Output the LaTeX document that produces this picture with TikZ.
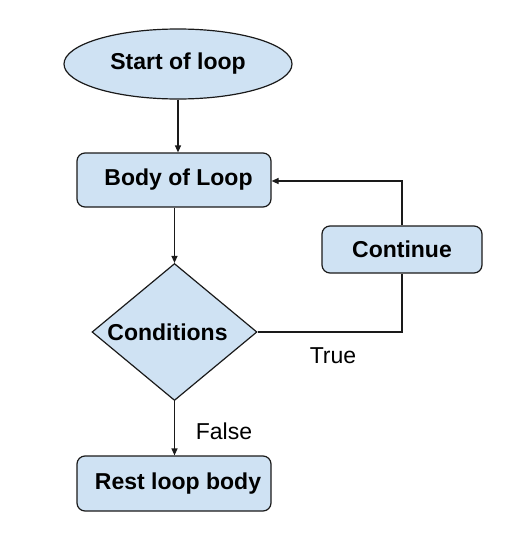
\documentclass[tikz,border=0pt]{standalone}
\usepackage{fontspec}
\setmainfont{Liberation Sans}
\usetikzlibrary{shapes.geometric,arrows.meta}
\definecolor{boxfill}{HTML}{CFE2F3}
\definecolor{linec}{HTML}{1A1A1A}
\newcommand{\lowertext}[2]{\hspace*{#1}\raisebox{-3pt}{#2}}
\begin{document}
\begin{tikzpicture}[x=1pt,y=-1pt,
  shapebase/.style={draw=linec,fill=boxfill,line width=1.2pt,inner sep=0pt,font=\fontsize{23}{27}\selectfont\bfseries},
  roundbox/.style={shapebase,rectangle,rounded corners=8pt},
  startend/.style={shapebase,ellipse},
  decision/.style={shapebase,diamond,aspect=1.2},
  conn/.style={draw=linec,line width=1.2pt},
  arr/.style={conn,-{Triangle[length=7pt,width=6pt]}},
  lbl/.style={inner sep=0pt,font=\fontsize{23}{27}\selectfont}]
\useasboundingbox (0,0) rectangle (514,546);
\node[startend,minimum width=228pt,minimum height=70pt] (start) at (178,64) {\lowertext{0pt}{Start of loop}};
\node[roundbox,minimum width=194pt,minimum height=54pt] (body) at (174,180) {\lowertext{9pt}{Body of Loop}};
\node[decision,minimum width=165pt,minimum height=137pt] (cond) at (174.5,332) {\lowertext{-14pt}{Conditions}};
\node[roundbox,minimum width=160pt,minimum height=47pt] (cont) at (402,249.5) {\lowertext{0pt}{Continue}};
\node[roundbox,minimum width=194pt,minimum height=55pt] (rest) at (174,483.5) {\lowertext{8pt}{Rest loop body}};
\coordinate (c1) at (402,332);
\coordinate (c2) at (402,181);
\draw[arr] (start.south) -- (body.north -| start.south);
\draw[arr] (body.south -| cond.north) -- (cond.north);
\draw[arr] (cond.south) -- (rest.north -| cond.south);
\draw[conn] (cond.east) -- (c1) -- (cont.south);
\draw[arr] (cont.north) -- (c2) -- (body.east |- c2);
\node[lbl] (ltrue) at (333,356) {True};
\node[lbl] (lfalse) at (224,431) {False};
\end{tikzpicture}
\end{document}
